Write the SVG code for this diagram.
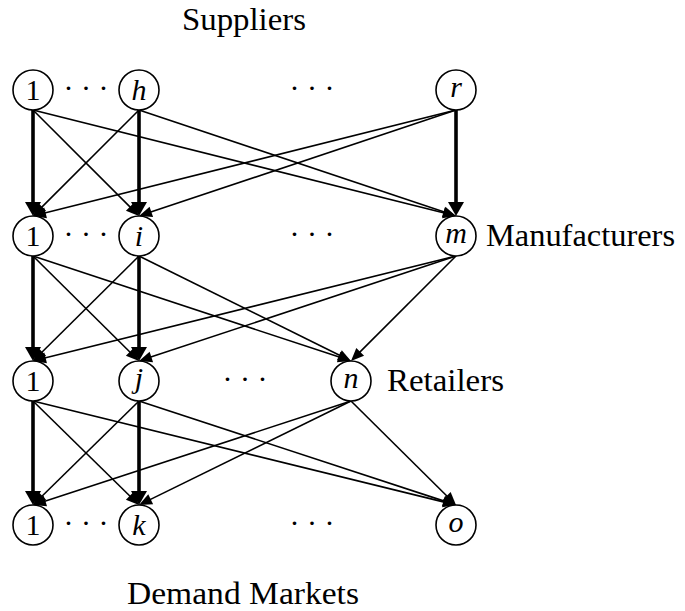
<svg xmlns="http://www.w3.org/2000/svg" width="685" height="611" viewBox="0 0 685 611">
<defs>
<style>
.node circle{fill:#fff;stroke:#000;stroke-width:1.6}
.lbl{font-size:30px;text-anchor:middle;fill:#000}
.it{font-style:italic}
.title{font-size:31px;fill:#000}
.dots{font-size:30px;text-anchor:middle;fill:#000}
.thin{stroke:#000;stroke-width:1.6;fill:none;marker-end:url(#ah)}
.bold{stroke:#000;stroke-width:3.6;fill:none;marker-end:url(#ahb)}
</style>
<marker id="ah" markerUnits="userSpaceOnUse" orient="auto" refX="0" refY="0" markerWidth="30" markerHeight="30" viewBox="-15 -15 30 30" overflow="visible">
<path d="M-3,-5.5 L10,0 L-3,5.5 z" fill="#000"/>
</marker>
<marker id="ahb" markerUnits="userSpaceOnUse" orient="auto" refX="0" refY="0" markerWidth="40" markerHeight="40" viewBox="-20 -20 40 40" overflow="visible">
<path d="M-2,-8 L12,0 L-2,8 z" fill="#000"/>
</marker>
</defs>
<rect width="685" height="611" fill="#fff"/>

<g font-family="'Liberation Serif', 'Times New Roman', serif">
<text class="title" x="182" y="30" textLength="124" lengthAdjust="spacingAndGlyphs">Suppliers</text>
<text class="title" x="486" y="246" textLength="189" lengthAdjust="spacingAndGlyphs">Manufacturers</text>
<text class="title" x="387" y="391" textLength="117" lengthAdjust="spacingAndGlyphs">Retailers</text>
<text class="title" x="127" y="604" textLength="232" lengthAdjust="spacingAndGlyphs">Demand Markets</text>
</g>

<g id="connectors">
<line class="bold" x1="33" y1="110" x2="33" y2="204"/>
<line class="thin" x1="33" y1="110" x2="131.93" y2="208.93"/>
<line class="thin" x1="33" y1="110" x2="446.30" y2="213.57"/>
<line class="thin" x1="139" y1="110" x2="40.07" y2="208.93"/>
<line class="bold" x1="139" y1="110" x2="139" y2="204"/>
<line class="thin" x1="139" y1="110" x2="446.52" y2="212.83"/>
<line class="thin" x1="456" y1="110" x2="42.70" y2="213.57"/>
<line class="thin" x1="456" y1="110" x2="148.48" y2="212.83"/>
<line class="bold" x1="456" y1="110" x2="456" y2="204"/>

<line class="bold" x1="33" y1="256" x2="33" y2="349"/>
<line class="thin" x1="33" y1="256" x2="131.90" y2="353.96"/>
<line class="thin" x1="33" y1="256" x2="341.50" y2="357.86"/>
<line class="thin" x1="139" y1="256" x2="40.10" y2="353.96"/>
<line class="bold" x1="139" y1="256" x2="139" y2="349"/>
<line class="thin" x1="139" y1="256" x2="342.04" y2="356.56"/>
<line class="thin" x1="456" y1="256" x2="42.71" y2="358.59"/>
<line class="thin" x1="456" y1="256" x2="148.49" y2="357.86"/>
<line class="thin" x1="456" y1="256" x2="358.07" y2="353.93"/>

<line class="bold" x1="33" y1="401" x2="33" y2="493"/>
<line class="thin" x1="33" y1="401" x2="131.86" y2="498.00"/>
<line class="thin" x1="33" y1="401" x2="446.29" y2="502.61"/>
<line class="thin" x1="139" y1="401" x2="40.14" y2="498.00"/>
<line class="bold" x1="139" y1="401" x2="139" y2="493"/>
<line class="thin" x1="139" y1="401" x2="446.50" y2="501.88"/>
<line class="thin" x1="351" y1="401" x2="42.50" y2="501.89"/>
<line class="thin" x1="351" y1="401" x2="147.98" y2="500.60"/>
<line class="thin" x1="351" y1="401" x2="448.90" y2="497.96"/>
</g>

<g font-family="'Liberation Serif', 'Times New Roman', serif">
<g id="s1" class="node"><circle cx="33" cy="90" r="20"/><text class="lbl" x="33" y="100">1</text></g>
<g id="sh" class="node"><circle cx="139" cy="90" r="20"/><text class="lbl it" x="139" y="100">h</text></g>
<g id="sr" class="node"><circle cx="456" cy="90" r="20"/><text class="lbl it" x="456" y="97">r</text></g>

<g id="m1" class="node"><circle cx="33" cy="236" r="20"/><text class="lbl" x="33" y="246">1</text></g>
<g id="mi" class="node"><circle cx="139" cy="236" r="20"/><text class="lbl it" x="139" y="246">i</text></g>
<g id="mm" class="node"><circle cx="456" cy="236" r="20"/><text class="lbl it" x="456" y="243">m</text></g>

<g id="r1" class="node"><circle cx="33" cy="381" r="20"/><text class="lbl" x="33" y="391">1</text></g>
<g id="rj" class="node"><circle cx="139" cy="381" r="20"/><text class="lbl it" x="139" y="388">j</text></g>
<g id="rn" class="node"><circle cx="351" cy="381" r="20"/><text class="lbl it" x="351" y="388">n</text></g>

<g id="d1" class="node"><circle cx="33" cy="525" r="20"/><text class="lbl" x="33" y="535">1</text></g>
<g id="dk" class="node"><circle cx="139" cy="525" r="20"/><text class="lbl it" x="139" y="535">k</text></g>
<g id="do" class="node"><circle cx="456" cy="525" r="20"/><text class="lbl it" x="456" y="532">o</text></g>

<text class="dots" x="86" y="98">· · ·</text>
<text class="dots" x="312" y="98">· · ·</text>
<text class="dots" x="86" y="244">· · ·</text>
<text class="dots" x="312" y="244">· · ·</text>
<text class="dots" x="245" y="389">· · ·</text>
<text class="dots" x="86" y="533">· · ·</text>
<text class="dots" x="312" y="533">· · ·</text>
</g>
</svg>
